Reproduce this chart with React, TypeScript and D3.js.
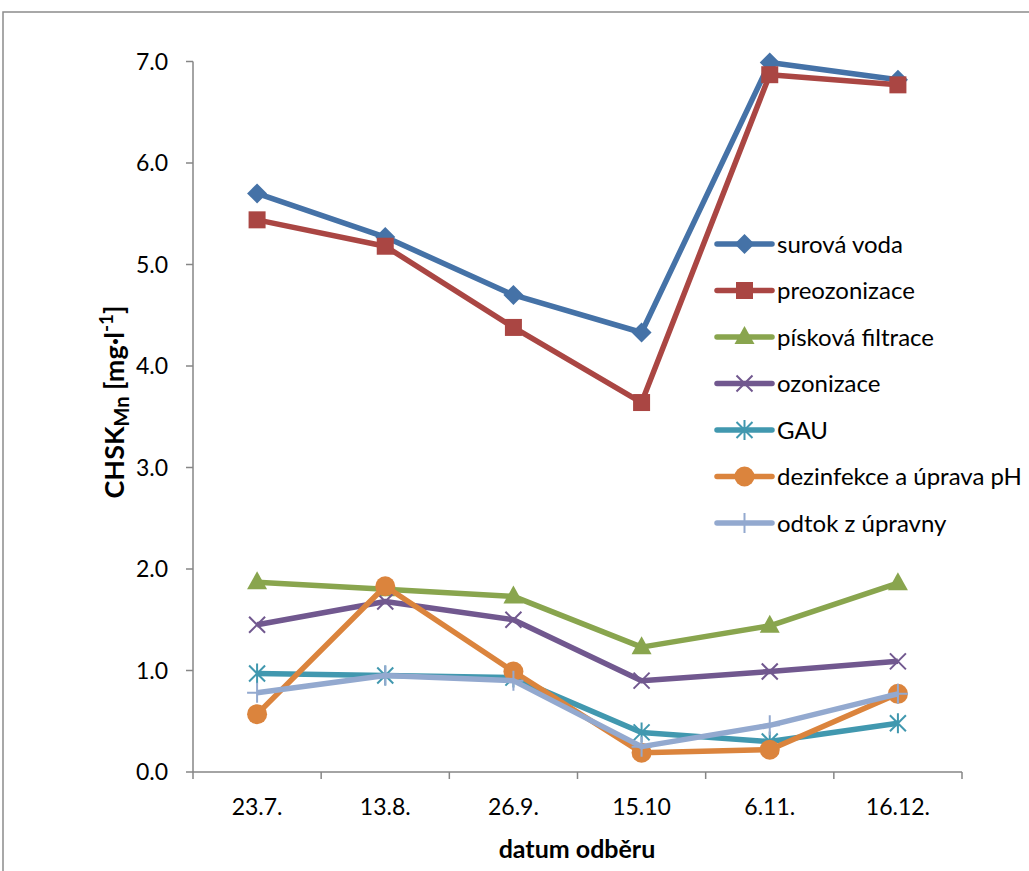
import React from "react";
import * as d3 from "d3";

const categories = ["23.7.", "13.8.", "26.9.", "15.10", "6.11.", "16.12."];
const surovaVoda = [5.7, 5.27, 4.7, 4.33, 6.99, 6.82];
const preozonizace = [5.44, 5.18, 4.38, 3.64, 6.87, 6.77];
const piskovaFiltrace = [1.87, 1.8, 1.73, 1.23, 1.44, 1.86];
const ozonizace = [1.45, 1.68, 1.5, 0.9, 0.99, 1.09];
const gau = [0.97, 0.95, 0.93, 0.39, 0.3, 0.48];
const dezinfekce = [0.57, 1.83, 0.99, 0.19, 0.22, 0.77];
const odtok = [0.78, 0.95, 0.9, 0.25, 0.46, 0.77];
const yTicks = [0, 1, 2, 3, 4, 5, 6, 7];

const seriesList = [
  { name: "surová voda", values: surovaVoda, color: "#4572A7", marker: "diamond" },
  { name: "preozonizace", values: preozonizace, color: "#AA4643", marker: "square" },
  { name: "písková filtrace", values: piskovaFiltrace, color: "#89A54E", marker: "triangle" },
  { name: "ozonizace", values: ozonizace, color: "#71588F", marker: "x" },
  { name: "GAU", values: gau, color: "#4198AF", marker: "star" },
  { name: "dezinfekce a úprava pH", values: dezinfekce, color: "#DB843D", marker: "circle" },
  { name: "odtok z úpravny", values: odtok, color: "#93A9CF", marker: "plus" },
];

const FONT = "Lato, 'Open Sans', sans-serif";

function Marker({ type, x, y, color }: { type: string; x: number; y: number; color: string }) {
  switch (type) {
    case "diamond":
      return <path d={`M${x},${y - 10}L${x + 10},${y}L${x},${y + 10}L${x - 10},${y}Z`} fill={color} />;
    case "square":
      return <rect x={x - 8.5} y={y - 8.5} width={17} height={17} fill={color} />;
    case "triangle":
      return <path d={`M${x},${y - 11}L${x + 10},${y + 7}L${x - 10},${y + 7}Z`} fill={color} />;
    case "x":
      return (
        <path d={`M${x - 8},${y - 8}L${x + 8},${y + 8}M${x - 8},${y + 8}L${x + 8},${y - 8}`} stroke={color} strokeWidth={2} />
      );
    case "star":
      return (
        <path
          d={`M${x - 8},${y - 8}L${x + 8},${y + 8}M${x - 8},${y + 8}L${x + 8},${y - 8}M${x},${y - 10}L${x},${y + 10}`}
          stroke={color}
          strokeWidth={2}
        />
      );
    case "circle":
      return <circle cx={x} cy={y} r={10} fill={color} />;
    case "plus":
      return <path d={`M${x},${y - 10}L${x},${y + 10}M${x - 10},${y}L${x + 10},${y}`} stroke={color} strokeWidth={2} />;
    default:
      return null;
  }
}

export default function App() {
  const W = 1029;
  const H = 871;
  const x = d3.scaleBand<string>().domain(categories).range([193, 962]);
  const y = d3.scaleLinear().domain([0, 7]).range([772, 61.5]);
  const line = d3
    .line<number>()
    .x((_, i) => (x(categories[i]) as number) + x.bandwidth() / 2)
    .y((d) => y(d));
  const axisColor = "#868686";
  const legendX = 717;
  const legendY0 = 244;
  const legendStep = 46.5;

  return (
    <svg
      width={W}
      height={H}
      style={{ position: "absolute", left: 0, top: 0, background: "#fff" }}
      fontFamily={FONT}
    >
      <rect x={0} y={0} width={W} height={H} fill="#fff" />
      <rect x={3} y={12} width={W + 50} height={H + 50} fill="none" stroke="#8c8c8c" strokeWidth={1.5} />

      {/* y axis */}
      <line x1={193} x2={193} y1={y(7)} y2={y(0)} stroke={axisColor} strokeWidth={1.5} />
      {yTicks.map((t) => (
        <g key={t}>
          <line x1={186} x2={193} y1={y(t)} y2={y(t)} stroke={axisColor} strokeWidth={1.5} />
          <text x={168} y={y(t)} dy="0.36em" textAnchor="end" fontSize={23} fill="#000">
            {t.toFixed(1)}
          </text>
        </g>
      ))}

      {/* x axis */}
      <line x1={193} x2={962} y1={y(0)} y2={y(0)} stroke={axisColor} strokeWidth={1.5} />
      {[...categories.map((c) => x(c) as number), 962].map((p, i) => (
        <line key={i} x1={p} x2={p} y1={y(0)} y2={y(0) + 7} stroke={axisColor} strokeWidth={1.5} />
      ))}
      {categories.map((c) => (
        <text
          key={c}
          x={(x(c) as number) + x.bandwidth() / 2}
          y={815}
          textAnchor="middle"
          fontSize={23}
          fill="#000"
        >
          {c}
        </text>
      ))}
      <text x={577} y={858} textAnchor="middle" fontSize={25} fontWeight="bold" fill="#000">
        datum odběru
      </text>
      <text transform="translate(124,402) rotate(-90)" textAnchor="middle" fontSize={27} fontWeight="bold" fill="#000">
        CHSK
        <tspan fontSize={20} dy={5}>
          Mn
        </tspan>
        <tspan dy={-5}> [mg·l</tspan>
        <tspan fontSize={19} dy={-11}>
          -1
        </tspan>
        <tspan dy={11}>]</tspan>
      </text>

      {/* series */}
      {seriesList.map((s) => (
        <g key={s.name}>
          <path d={line(s.values) || ""} fill="none" stroke={s.color} strokeWidth={5.5} strokeLinejoin="round" />
          {s.values.map((v, i) => (
            <Marker
              key={i}
              type={s.marker}
              x={(x(categories[i]) as number) + x.bandwidth() / 2}
              y={y(v)}
              color={s.color}
            />
          ))}
        </g>
      ))}

      {/* legend */}
      {seriesList.map((s, i) => {
        const ly = legendY0 + i * legendStep;
        return (
          <g key={s.name}>
            <line x1={legendX} x2={legendX + 55} y1={ly} y2={ly} stroke={s.color} strokeWidth={5.5} strokeLinecap="round" />
            <Marker type={s.marker} x={legendX + 27.5} y={ly} color={s.color} />
            <text x={legendX + 60} y={ly} dy="0.36em" fontSize={24} fill="#000">
              {s.name}
            </text>
          </g>
        );
      })}
    </svg>
  );
}
